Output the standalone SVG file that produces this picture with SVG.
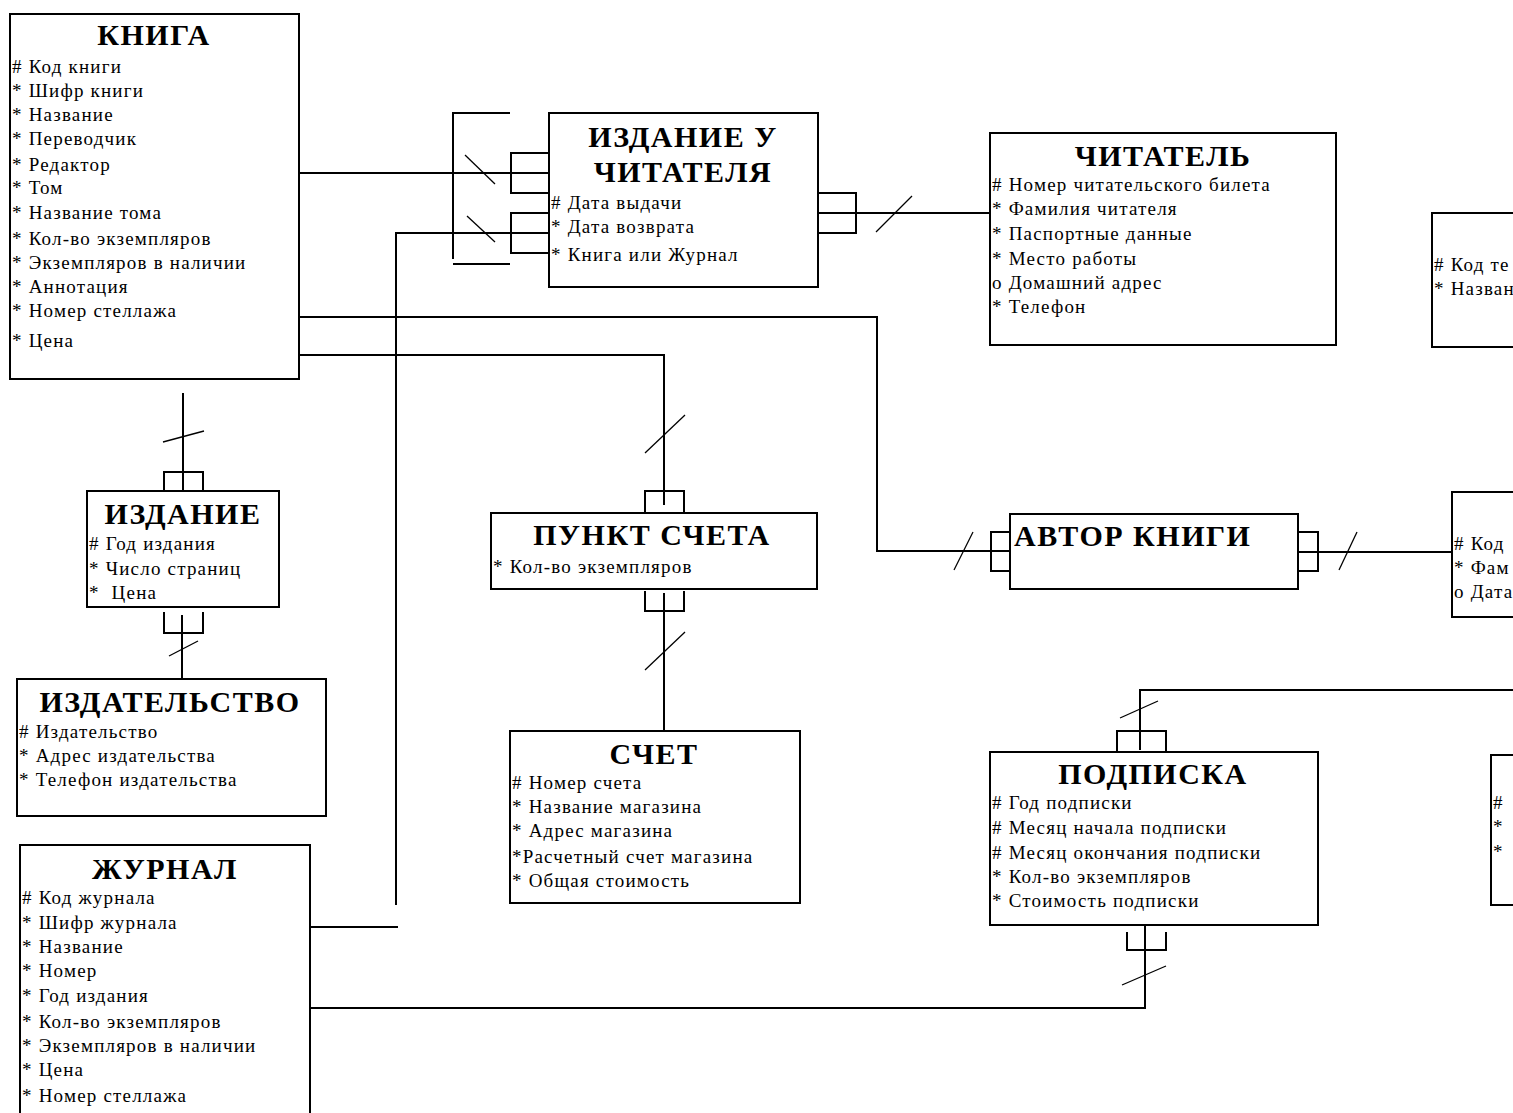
<svg xmlns="http://www.w3.org/2000/svg" width="1513" height="1113" viewBox="0 0 1513 1113">
  <style>
    .box { fill: #fff; stroke: #000; stroke-width: 2; }
    .title { font-family: "Liberation Serif", serif; font-weight: bold; font-size: 30px; letter-spacing: 1.5px; fill: #000; text-anchor: middle; }
    .attr { font-family: "Liberation Serif", serif; font-size: 19px; letter-spacing: 1.2px; fill: #000; white-space: pre; }
    .ln { fill: none; stroke: #000; stroke-width: 2; }
    .tick { fill: none; stroke: #000; stroke-width: 1.3; }
  </style>
  <rect x="0" y="0" width="1513" height="1113" fill="#fff"/>

  <!-- relationship lines, crow's feet and bar ticks -->
  <g id="connectors">
    <!-- КНИГА -> ИЗДАНИЕ У ЧИТАТЕЛЯ -->
    <line class="ln" x1="299" y1="173" x2="549" y2="173"/>
    <polyline class="ln" points="549,153 511,153 511,193 549,193"/>
    <line class="tick" x1="465" y1="155" x2="495" y2="184"/>
    <!-- ЖУРНАЛ -> ИЗДАНИЕ У ЧИТАТЕЛЯ -->
    <polyline class="ln" points="396,905 396,233 549,233"/>
    <line class="ln" x1="311" y1="927" x2="398" y2="927"/>
    <polyline class="ln" points="549,213 511,213 511,253 549,253"/>
    <line class="tick" x1="467" y1="216" x2="495" y2="242"/>
    <!-- exclusive arc bracket -->
    <polyline class="ln" points="510,113 453,113 453,259"/>
    <line class="ln" x1="453" y1="264" x2="510" y2="264"/>
    <!-- ИЗДАНИЕ У ЧИТАТЕЛЯ -> ЧИТАТЕЛЬ -->
    <polyline class="ln" points="818,193 856,193 856,233 818,233"/>
    <line class="ln" x1="818" y1="213" x2="990" y2="213"/>
    <line class="tick" x1="876" y1="232" x2="912" y2="196"/>
    <!-- КНИГА -> АВТОР КНИГИ -->
    <polyline class="ln" points="299,317 877,317 877,551 1010,551"/>
    <polyline class="ln" points="1010,532 991,532 991,571 1010,571"/>
    <line class="tick" x1="954" y1="570" x2="973" y2="532"/>
    <!-- АВТОР КНИГИ -> author entity -->
    <polyline class="ln" points="1298,532 1318,532 1318,571 1298,571"/>
    <line class="ln" x1="1298" y1="552" x2="1453" y2="552"/>
    <line class="tick" x1="1339" y1="570" x2="1357" y2="532"/>
    <!-- КНИГА -> ПУНКТ СЧЕТА -->
    <polyline class="ln" points="299,355 664,355 664,505"/>
    <polyline class="ln" points="645,513 645,491 684,491 684,513"/>
    <line class="tick" x1="645" y1="453" x2="685" y2="415"/>
    <!-- ПУНКТ СЧЕТА -> СЧЕТ -->
    <polyline class="ln" points="645,591 645,611 684,611 684,591"/>
    <line class="ln" x1="664" y1="593" x2="664" y2="731"/>
    <line class="tick" x1="645" y1="670" x2="685" y2="632"/>
    <!-- ИЗДАНИЕ top -->
    <line class="ln" x1="183" y1="393" x2="183" y2="491"/>
    <polyline class="ln" points="164,491 164,472 203,472 203,491"/>
    <line class="tick" x1="163" y1="442" x2="204" y2="431"/>
    <!-- ИЗДАНИЕ -> ИЗДАТЕЛЬСТВО -->
    <polyline class="ln" points="164,612 164,633 203,633 203,612"/>
    <line class="ln" x1="182" y1="615" x2="182" y2="679"/>
    <line class="tick" x1="169" y1="656" x2="198" y2="641"/>
    <!-- ПОДПИСКА top -->
    <polyline class="ln" points="1513,690 1140,690 1140,750"/>
    <polyline class="ln" points="1117,752 1117,731 1166,731 1166,752"/>
    <line class="tick" x1="1120" y1="718" x2="1158" y2="701"/>
    <!-- ЖУРНАЛ -> ПОДПИСКА -->
    <polyline class="ln" points="1127,932 1127,950 1166,950 1166,932"/>
    <polyline class="ln" points="1145,925 1145,1008 310,1008"/>
    <line class="tick" x1="1122" y1="985" x2="1166" y2="966"/>
  </g>

  <g id="kniga">
    <rect class="box" x="10" y="14" width="289" height="365"/>
    <text class="title" x="154" y="45">КНИГА</text>
    <text class="attr" x="12" y="73"># Код книги</text>
    <text class="attr" x="12" y="97">* Шифр книги</text>
    <text class="attr" x="12" y="121">* Название</text>
    <text class="attr" x="12" y="145">* Переводчик</text>
    <text class="attr" x="12" y="171">* Редактор</text>
    <text class="attr" x="12" y="194">* Том</text>
    <text class="attr" x="12" y="219">* Название тома</text>
    <text class="attr" x="12" y="245">* Кол-во экземпляров</text>
    <text class="attr" x="12" y="269">* Экземпляров в наличии</text>
    <text class="attr" x="12" y="293">* Аннотация</text>
    <text class="attr" x="12" y="317">* Номер стеллажа</text>
    <text class="attr" x="12" y="347">* Цена</text>
  </g>

  <g id="izdanie-u-chitatelya">
    <rect class="box" x="549" y="113" width="269" height="174"/>
    <text class="title" x="683" y="147">ИЗДАНИЕ У</text>
    <text class="title" x="683" y="182">ЧИТАТЕЛЯ</text>
    <text class="attr" x="551" y="209"># Дата выдачи</text>
    <text class="attr" x="551" y="233">* Дата возврата</text>
    <text class="attr" x="551" y="261">* Книга или Журнал</text>
  </g>

  <g id="chitatel">
    <rect class="box" x="990" y="133" width="346" height="212"/>
    <text class="title" x="1163" y="166">ЧИТАТЕЛЬ</text>
    <text class="attr" x="992" y="191"># Номер читательского билета</text>
    <text class="attr" x="992" y="215">* Фамилия читателя</text>
    <text class="attr" x="992" y="240">* Паспортные данные</text>
    <text class="attr" x="992" y="265">* Место работы</text>
    <text class="attr" x="992" y="289">о Домашний адрес</text>
    <text class="attr" x="992" y="313">* Телефон</text>
  </g>

  <g id="edge-entity-1">
    <rect class="box" x="1432" y="213" width="100" height="134"/>
    <text class="attr" x="1434" y="271"># Код те</text>
    <text class="attr" x="1434" y="295">* Назван</text>
  </g>

  <g id="izdanie">
    <rect class="box" x="87" y="491" width="192" height="116"/>
    <text class="title" x="183" y="524">ИЗДАНИЕ</text>
    <text class="attr" x="89" y="550"># Год издания</text>
    <text class="attr" x="89" y="575">* Число страниц</text>
    <text class="attr" x="89" y="599">*  Цена</text>
  </g>

  <g id="punkt-scheta">
    <rect class="box" x="491" y="513" width="326" height="76"/>
    <text class="title" x="652" y="545">ПУНКТ СЧЕТА</text>
    <text class="attr" x="493" y="573">* Кол-во экземпляров</text>
  </g>

  <g id="avtor-knigi">
    <rect class="box" x="1010" y="514" width="288" height="75"/>
    <text class="title" x="1014" y="546" style="text-anchor:start">АВТОР КНИГИ</text>
  </g>

  <g id="edge-entity-2">
    <rect class="box" x="1452" y="492" width="100" height="125"/>
    <text class="attr" x="1454" y="550"># Код</text>
    <text class="attr" x="1454" y="574">* Фам</text>
    <text class="attr" x="1454" y="598">о Дата</text>
  </g>

  <g id="izdatelstvo">
    <rect class="box" x="17" y="679" width="309" height="137"/>
    <text class="title" x="170" y="712">ИЗДАТЕЛЬСТВО</text>
    <text class="attr" x="19" y="738"># Издательство</text>
    <text class="attr" x="19" y="762">* Адрес издательства</text>
    <text class="attr" x="19" y="786">* Телефон издательства</text>
  </g>

  <g id="schet">
    <rect class="box" x="510" y="731" width="290" height="172"/>
    <text class="title" x="654" y="764">СЧЕТ</text>
    <text class="attr" x="512" y="789"># Номер счета</text>
    <text class="attr" x="512" y="813">* Название магазина</text>
    <text class="attr" x="512" y="837">* Адрес магазина</text>
    <text class="attr" x="512" y="863">*Расчетный счет магазина</text>
    <text class="attr" x="512" y="887">* Общая стоимость</text>
  </g>

  <g id="podpiska">
    <rect class="box" x="990" y="752" width="328" height="173"/>
    <text class="title" x="1153" y="784">ПОДПИСКА</text>
    <text class="attr" x="992" y="809"># Год подписки</text>
    <text class="attr" x="992" y="834"># Месяц начала подписки</text>
    <text class="attr" x="992" y="859"># Месяц окончания подписки</text>
    <text class="attr" x="992" y="883">* Кол-во экземпляров</text>
    <text class="attr" x="992" y="907">* Стоимость подписки</text>
  </g>

  <g id="edge-entity-3">
    <rect class="box" x="1491" y="755" width="60" height="150"/>
    <text class="attr" x="1493" y="809">#</text>
    <text class="attr" x="1493" y="833">*</text>
    <text class="attr" x="1493" y="858">*</text>
  </g>

  <g id="zhurnal">
    <rect class="box" x="20" y="845" width="290" height="290"/>
    <text class="title" x="165" y="879">ЖУРНАЛ</text>
    <text class="attr" x="22" y="904"># Код журнала</text>
    <text class="attr" x="22" y="929">* Шифр журнала</text>
    <text class="attr" x="22" y="953">* Название</text>
    <text class="attr" x="22" y="977">* Номер</text>
    <text class="attr" x="22" y="1002">* Год издания</text>
    <text class="attr" x="22" y="1028">* Кол-во экземпляров</text>
    <text class="attr" x="22" y="1052">* Экземпляров в наличии</text>
    <text class="attr" x="22" y="1076">* Цена</text>
    <text class="attr" x="22" y="1102">* Номер стеллажа</text>
  </g>
</svg>
